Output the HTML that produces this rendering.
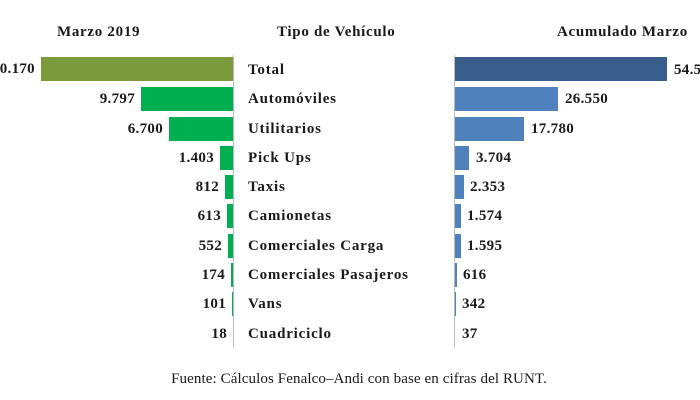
<!DOCTYPE html>
<html><head><meta charset="utf-8"><style>
body{margin:0;width:700px;height:400px;background:#fff;position:relative;overflow:hidden;font-family:"Liberation Serif",serif;color:#1a1a1a}
.t{position:absolute;font-weight:bold;font-size:15px;line-height:24px;white-space:nowrap;letter-spacing:0.3px}
.c{letter-spacing:0.8px}
.h{position:absolute;font-weight:bold;font-size:15px;top:24px;white-space:nowrap;letter-spacing:0.7px}
.b{position:absolute;height:24px}
.ax{position:absolute;width:1px;background:#bbb;top:55px;height:292px}
.l{text-align:right;width:100px}
</style></head><body>
<div class="h" style="left:57px">Marzo 2019</div>
<div class="h" style="left:277px">Tipo de Vehículo</div>
<div class="h" style="left:557px">Acumulado Marzo</div>
<div class="ax" style="left:233px"></div>
<div class="ax" style="left:454px"></div>

<div class="b" style="left:41px;width:192px;top:57px;background:#7b9a3c"></div>
<div class="b" style="left:141px;width:92px;top:87px;background:#00b050"></div>
<div class="b" style="left:169px;width:64px;top:117px;background:#00b050"></div>
<div class="b" style="left:220px;width:13px;top:146px;background:#00b050"></div>
<div class="b" style="left:225px;width:8px;top:175px;background:#00b050"></div>
<div class="b" style="left:227px;width:6px;top:204px;background:#00b050"></div>
<div class="b" style="left:228px;width:5px;top:234px;background:#00b050"></div>
<div class="b" style="left:231px;width:2px;top:263px;background:#00b050"></div>
<div class="b" style="left:232px;width:1px;top:292px;background:#00b050"></div>

<div class="t l" style="left:-65px;top:57px">20.170</div>
<div class="t l" style="left:35px;top:87px">9.797</div>
<div class="t l" style="left:63px;top:117px">6.700</div>
<div class="t l" style="left:114px;top:146px">1.403</div>
<div class="t l" style="left:119px;top:175px">812</div>
<div class="t l" style="left:121px;top:204px">613</div>
<div class="t l" style="left:122px;top:234px">552</div>
<div class="t l" style="left:125px;top:263px">174</div>
<div class="t l" style="left:126px;top:292px">101</div>
<div class="t l" style="left:127px;top:322px">18</div>

<div class="t c" style="left:248px;top:58px">Total</div>
<div class="t c" style="left:248px;top:87px">Automóviles</div>
<div class="t c" style="left:248px;top:117px">Utilitarios</div>
<div class="t c" style="left:248px;top:146px">Pick Ups</div>
<div class="t c" style="left:248px;top:175px">Taxis</div>
<div class="t c" style="left:248px;top:204px">Camionetas</div>
<div class="t c" style="left:248px;top:234px">Comerciales Carga</div>
<div class="t c" style="left:248px;top:263px">Comerciales Pasajeros</div>
<div class="t c" style="left:248px;top:292px">Vans</div>
<div class="t c" style="left:248px;top:322px">Cuadriciclo</div>

<div class="b" style="left:455px;width:212px;top:57px;background:#385d8a"></div>
<div class="b" style="left:455px;width:103px;top:87px;background:#4f81bd"></div>
<div class="b" style="left:455px;width:69px;top:117px;background:#4f81bd"></div>
<div class="b" style="left:455px;width:14px;top:146px;background:#4f81bd"></div>
<div class="b" style="left:455px;width:9px;top:175px;background:#4f81bd"></div>
<div class="b" style="left:455px;width:6px;top:204px;background:#4f81bd"></div>
<div class="b" style="left:455px;width:6px;top:234px;background:#4f81bd"></div>
<div class="b" style="left:455px;width:2px;top:263px;background:#4f81bd"></div>
<div class="b" style="left:455px;width:1px;top:292px;background:#4f81bd"></div>

<div class="t" style="left:674px;top:58px">54.504</div>
<div class="t" style="left:565px;top:87px">26.550</div>
<div class="t" style="left:531px;top:117px">17.780</div>
<div class="t" style="left:476px;top:146px">3.704</div>
<div class="t" style="left:470px;top:175px">2.353</div>
<div class="t" style="left:467px;top:204px">1.574</div>
<div class="t" style="left:467px;top:234px">1.595</div>
<div class="t" style="left:463px;top:263px">616</div>
<div class="t" style="left:462px;top:292px">342</div>
<div class="t" style="left:462px;top:322px">37</div>

<div style="position:absolute;left:0;width:718px;text-align:center;top:371px;font-size:15px;letter-spacing:0.1px">Fuente: Cálculos Fenalco–Andi con base en cifras del RUNT.</div>
</body></html>
